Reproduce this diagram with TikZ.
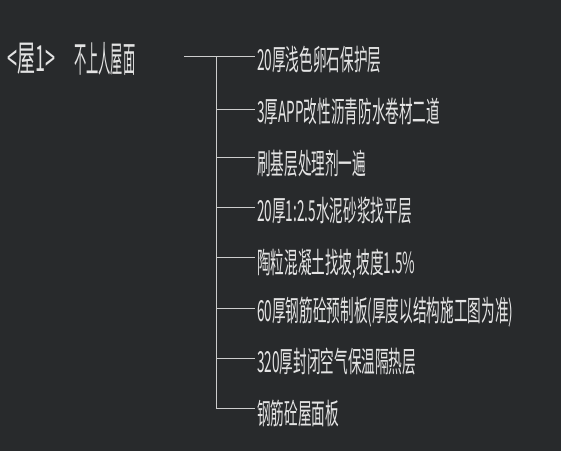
\documentclass[tikz,border=0pt]{standalone}
\usepackage{fontspec}
\newfontfamily\cjkitem[FakeStretch=0.47]{Noto Sans CJK SC}
\newfontfamily\cjktitle[FakeStretch=0.34]{Noto Sans CJK SC}
\newfontfamily\cjktag[FakeStretch=0.5]{Noto Sans CJK SC}
\definecolor{cadbg}{RGB}{40,42,44}
\definecolor{cadline}{RGB}{205,205,205}
\definecolor{cadtext}{RGB}{228,228,228}
\tikzset{
  layer/.style={anchor=west,inner sep=2pt,text=cadtext,font=\cjkitem\fontsize{29}{29}\selectfont},
  roofname/.style={anchor=west,inner sep=0pt,text=cadtext,font=\cjktitle\fontsize{36}{36}\selectfont},
  rooftag/.style={roofname,font=\cjktag\fontsize{36}{36}\selectfont},
  leader/.style={draw=cadline,line width=0.8pt}
}
\begin{document}
\begin{tikzpicture}[x=1pt,y=-1pt]
\fill[cadbg] (0,0) rectangle (561,451);
\useasboundingbox (0,0) rectangle (561,451);
% roof title
\node[rooftag] (tag) at (7,59) {<屋1>};
\node[roofname] (title) at (74,59) {不上人屋面};
% layer texts
\node[layer] (t1) at (255,60) {20厚浅色卵石保护层};
\node[layer] (t2) at (255,111) {3厚APP改性沥青防水卷材二道};
\node[layer] (t3) at (255,164) {刷基层处理剂一遍};
\node[layer] (t4) at (255,211) {20厚1:2.5水泥砂浆找平层};
\node[layer] (t5) at (255,264) {陶粒混凝土找坡,坡度1.5\%};
\node[layer] (t6) at (255,312) {60厚钢筋砼预制板(厚度以结构施工图为准)};
\node[layer] (t7) at (255,362) {320厚封闭空气保温隔热层};
\node[layer] (t8) at (255,413) {钢筋砼屋面板};
% leader lines
\coordinate (start) at (184,56);
\coordinate (b1) at (216,56);
\coordinate (b2) at (216,109);
\coordinate (b3) at (216,157);
\coordinate (b4) at (216,207);
\coordinate (b5) at (216,257);
\coordinate (b6) at (216,308);
\coordinate (b7) at (216,358);
\coordinate (b8) at (216,408);
\draw[leader] (start) -- (b1 -| t1.west);
\draw[leader] (b1) -- (b8);
\draw[leader] (b2) -- (b2 -| t2.west);
\draw[leader] (b3) -- (b3 -| t3.west);
\draw[leader] (b4) -- (b4 -| t4.west);
\draw[leader] (b5) -- (b5 -| t5.west);
\draw[leader] (b6) -- (b6 -| t6.west);
\draw[leader] (b7) -- (b7 -| t7.west);
\draw[leader] (b8) -- (b8 -| t8.west);
\end{tikzpicture}
\end{document}
